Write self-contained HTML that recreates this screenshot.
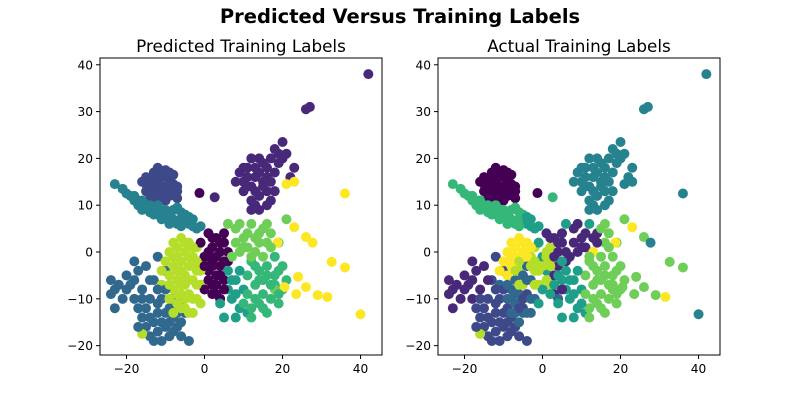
<!DOCTYPE html>
<html><head><meta charset="utf-8"><style>
body{margin:0;background:#fff}
svg text{font-family:"DejaVu Sans","Liberation Sans",sans-serif}
</style></head><body>
<svg id="fig" width="800" height="400" xmlns="http://www.w3.org/2000/svg">
<rect width="800" height="400" fill="#fff"/>
<text x="400" y="23" font-size="19.5" font-weight="bold" text-anchor="middle">Predicted Versus Training Labels</text>
</svg>
<script>
const xsA=[-15,-14,-13,-12,-11,-10,-9,-8,-7,-13,-11,-9,-14,-12,-10,-8,-7,-12,-10,-15,
-23,-21,-19,-18,-17,-16,-15,-14,-13,-12,-11,-10,-9,-8,-7,-6,-5,-4,-3,-2,-6,-1,-11,-9,
20,18,21,17,15,13,12,14,16,11,10,9,12,15,14,13,12,16,18,17,23,22,8,10,19,26,27,42,21,23,36,
-24,-23,-24,-23,-22,-20,-19,-18,-17,-16,-15,-14,-13,-12,-11,-10,-9,-8,-7,-6,-9,-11,-14,-12,-16,-13,-15,-12,-10,-8,-6,-5,-4,-18,-17,
-8,-6,-4,-2,-9,-7,-5,-3,-1,-8,-6,-4,-2,-9,-7,-5,-3,-1,-8,-6,-4,-2,-7,-5,-3,-10,-11,-16,
1,3,5,2,4,0,2,4,1,3,5,2,0,3,4,6,-1,1,5,6,
6,8,10,7,9,11,5,8,6,4,
12,14,16,18,13,15,17,11,19,14,20,16,12,21,18,
8,10,12,14,16,9,11,13,15,17,6,19,21,18,7,
23,26,27.7,18.7,32.6,36,24,26,20.5,23.5,29,31.5,40,-1.3,2.6];
const ysA=[16,14,17,15,16,14,15,13,14,12,12,12,11.5,18,17.5,16.5,11.5,13.5,12.5,13,
14.5,13.5,12,11,10,9,10,8.5,9.5,8,9,7.5,8.5,7,9.5,7,8,6,7,5,5.5,5.5,7,6,
23.5,22,21,20,19,18,20,17,16,16,15,17,14,14,12,10,9,13,13,11,18,16,15,18,19,30.5,31,38,14.5,15,12.5,
-6,-8,-9,-12,-7,-5,-7,-10,-12,-14,-16,-18,-19,-17,-15,-13,-12,-14,-16,-18,-18,-19,-10,-11,-8,-6,-3,-1,-4,-10,-11,-13,-19,-2,-4,
2,3,2,1,0,-1,0,-1,-2,-3,-4,-3,-4,-5,-6,-7,-6,-7,-8,-9,-9,-10,-11,-12,-13,-2,-7,-17.5,
4,3,2,1,0,-1,-2,-3,-4,-5,-6,-7,-8,-9,-10,-2,2,-1,4,0,
-4,-6,-8,-10,-12,-13,-14,-14,-8,-11,
-2,-4,-5,-7,-7,-9,-10,-5,-4,-11,-8,-13,-14,-6,-1,
5,3,6,4,2,0,1,0,-1,4,6,2,7,-8,-1,
5.3,3.2,2,2,-2.1,-3.3,-5.3,-7.5,-7.5,-9,-9.2,-9.6,-13.3,12.6,11.7];
const predA=[2,2,2,2,2,2,2,2,2,2,2,2,2,2,2,2,2,2,2,2,
4,4,4,4,4,4,4,4,4,4,4,4,4,4,4,4,4,4,4,4,4,4,4,4,
1,1,1,1,1,1,1,1,1,1,1,1,1,1,1,1,1,1,1,1,1,1,1,1,1,1,1,1,9,9,9,
3,3,3,3,3,3,3,3,3,3,3,3,3,3,3,3,3,3,3,3,3,3,3,3,3,3,3,3,3,3,3,3,3,3,3,
8,8,8,8,8,8,8,8,8,8,8,8,8,8,8,8,8,8,8,8,8,8,8,8,8,8,8,8,
0,0,0,0,0,0,0,0,0,0,0,0,0,0,0,0,0,0,0,0,
5,5,5,5,5,5,5,5,5,5,
6,6,6,6,6,6,6,6,6,6,6,6,6,6,6,
7,7,7,7,7,7,7,7,7,7,7,7,7,7,7,
9,9,9,9,9,9,9,9,9,9,9,9,9,0,1];
const actA=[0,0,0,0,0,0,0,0,0,0,0,0,0,0,0,0,0,0,0,0,
6,6,6,6,6,6,6,6,6,6,6,6,6,6,6,6,6,5,5,5,6,5,6,6,
4,4,4,4,4,4,4,4,4,4,4,4,4,4,4,4,4,4,4,4,4,4,4,4,4,4,4,4,4,4,4,
1,1,1,1,1,1,1,1,2,2,2,2,2,2,2,2,2,2,2,2,2,2,2,2,1,2,1,2,2,3,3,3,2,1,1,
9,9,9,8,9,9,9,8,8,9,8,3,8,9,3,8,3,8,3,3,2,3,3,2,3,9,3,8,
1,1,1,8,1,5,8,1,5,1,5,8,5,1,3,1,5,8,1,1,
5,5,5,5,5,5,5,5,5,5,
7,7,7,7,7,7,7,7,7,7,7,7,7,7,7,
1,1,5,1,7,1,1,9,7,7,5,7,7,7,1,
9,7,4,9,7,7,7,7,7,7,7,9,4,0,6];
const xsB=[-14,-13,-11,-10,-9,-8,-12,-14,-11,-13,-9,-7,-10,-12,-15,-16,
-20,-18,-17,-16,-14,-13,-12,-10,-8,-6,-4,-3,-7,
19,16,14,13,11,10,13,15,17,18,20,12,14,11,16,
-20,-21,-18,-16,-14,-12,-10,-9,-8,-13,-15,-11,-10,-7,-17,-6,-12,-14,
-7,-5,-3,-8,-6,-4,-2,-7,-5,-3,-1,-9,-6,-4,-2,-7,-5,-3,-1,-6,-4,-9,-11,-8,
2,4,1,3,5,2,4,1,3,2,5,0,
7,9,11,13,15,17,19,12,10,14,16,18,20,8,13,15,19,
9,11,13,15,17,10,12,14,16,8];
const ysB=[15,15.5,14,16,13.5,14.5,16.5,12.5,17,13,17,13,11,11,14.5,15,
12.5,12,11,11,10,8,10,9,9,8.5,7.5,5.5,6,
21,18,20,16,14,13,13,15,15,17,20,11,9,18,10,
-8,-10,-6,-10,-14,-13,-16,-15,-17,-15,-12,-10,-8,-13,-16,-15,-8,-6,
1,2,1,-1,-2,-1,-2,-4,-5,-3,-4,-7,-7,-6,-7,-9,-10,-10,-11,-12,-13,-10,-4,-13,
3,2,0,-1,-2,-3,-5,-6,-7,-9,-8,-3,
-6,-4,-9,-10,-6,-7,-9,-12,-11,-6,-3,-5,-3,-9,-3,-12,-11,
6,4,3,5,1,1,-1,2,6,2];
const predB=[2,2,2,2,2,2,2,2,2,2,2,2,2,2,2,2,
4,4,4,4,4,4,4,4,4,4,4,4,4,
1,1,1,1,1,1,1,1,1,1,1,1,1,1,1,
3,3,3,3,3,3,3,3,3,3,3,3,3,3,3,3,3,3,
8,8,8,8,8,8,8,8,8,8,8,8,8,8,8,8,8,8,8,8,8,8,8,8,
0,0,0,0,0,0,0,0,0,0,0,0,
5,5,6,6,6,6,6,6,6,6,6,6,6,5,6,6,6,
7,7,7,7,7,7,7,7,7,7];
const actB=[0,0,0,0,0,0,0,0,0,0,0,0,0,0,0,0,
6,6,6,6,6,6,6,6,6,6,5,5,6,
4,4,4,4,4,4,4,4,4,4,4,4,4,4,4,
1,1,1,2,2,2,2,2,2,2,2,2,2,3,2,3,2,1,
9,9,9,9,8,9,8,8,3,8,8,3,8,3,8,3,2,3,5,2,3,3,9,3,
1,1,8,1,5,8,5,8,5,5,1,8,
5,5,7,7,7,7,7,7,5,7,7,7,7,5,7,7,7,
1,1,1,7,7,1,7,1,7,1];
const xs=xsA.concat(xsB), ys=ysA.concat(ysB), predLabels=predA.concat(predB), actualLabels=actA.concat(actB);
const xTicks=[-20,0,20,40];
const yTicks=[-20,-10,0,10,20,30,40];
const cmap=['#440154','#482878','#3e4989','#31688e','#26828e','#1f9e89','#35b779','#6ece58','#b5de2b','#fde725'];
const NS='http://www.w3.org/2000/svg';
const svg=document.getElementById('fig');
function mk(t,a,parent){const e=document.createElementNS(NS,t);for(const k in a)e.setAttribute(k,a[k]);(parent||svg).appendChild(e);return e;}
function panel(x0,x1,title,labels,nm){
  const y0=58,y1=355;
  const xmin=-26.8,xmax=45.5,ymin=-22,ymax=41.45;
  const sx=v=>x0+(x1-x0)*(v-xmin)/(xmax-xmin);
  const sy=v=>y1-(y1-y0)*(v-ymin)/(ymax-ymin);
  const g=mk('g',{});
  
  
  const t=mk('text',{x:(x0+x1)/2,y:52,'font-size':16.8,'text-anchor':'middle'},g);
  t.textContent=title;
  
  
  for(let i=0;i<xs.length;i++){
    const c=mk('circle',{cx:sx(xs[i]),cy:sy(ys[i]),r:5,fill:cmap[labels[i]]},g);
    
    
  }
  const f=mk('rect',{x:x0,y:y0,width:x1-x0,height:y1-y0,fill:'none',stroke:'#000','stroke-width':1},g);
  
  
  xTicks.forEach(v=>{const X=sx(v);mk('line',{x1:X,x2:X,y1:y1,y2:y1+4,stroke:'#000'},g);
    const l=mk('text',{x:X,y:y1+18,'font-size':12.2,'text-anchor':'middle'},g);l.textContent=v<0?'\u2212'+(-v):v;
    
    });
  yTicks.forEach(v=>{const Y=sy(v);mk('line',{x1:x0-4,x2:x0,y1:Y,y2:Y,stroke:'#000'},g);
    const l=mk('text',{x:x0-7,y:Y+4.5,'font-size':12.2,'text-anchor':'end'},g);l.textContent=v<0?'\u2212'+(-v):v;
    
    });
}
panel(100,382,'Predicted Training Labels',predLabels,'predicted-panel');
panel(438,720,'Actual Training Labels',actualLabels,'actual-panel');
</script>
</body></html>
